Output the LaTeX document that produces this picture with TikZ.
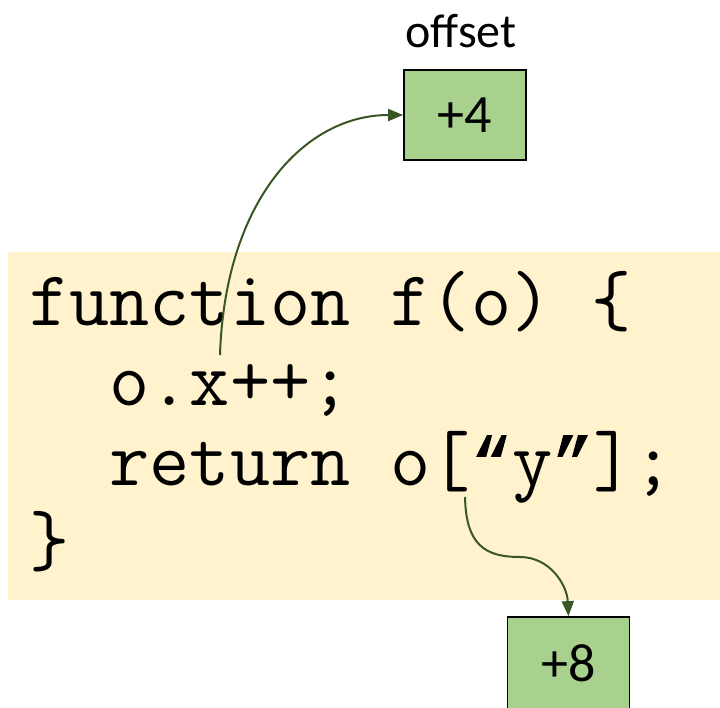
\documentclass[tikz,border=0pt]{standalone}
\usepackage{fontspec}
\setmainfont{Carlito}
\newfontfamily\quotefont[FakeBold=1.5]{Liberation Mono}
\usetikzlibrary{arrows.meta}
\definecolor{codebg}{HTML}{FFF2CC}
\definecolor{boxgreen}{HTML}{A9D18E}
\definecolor{arrowgreen}{HTML}{385723}
\newcommand{\curlyq}[1]{{\quotefont\fontsize{68.25}{80}\selectfont #1}}
\tikzset{
  slotbox/.style={draw=black, line width=1.8pt, fill=boxgreen, minimum width=122pt, minimum height=90pt, inner sep=0pt, font=\fontsize{54}{60}\selectfont},
  codeline/.style={anchor=base west, inner sep=0pt, font=\ttfamily\addfontfeatures{FakeBold=2}\fontsize{78}{80}\selectfont},
  link/.style={draw=arrowgreen, line width=2pt, -{Triangle[length=15pt,width=12pt]}},
}
\begin{document}
\begin{tikzpicture}[x=1pt,y=-1pt]
\useasboundingbox (0,0) rectangle (720,707);
\clip (0,0) rectangle (720,707);
\fill[codebg] (8,252) rectangle (720,600);
\node[codeline] (l1) at (29,325) {function f(o) \{};
\node[codeline] (l2) at (29,405) {\ \ o.x++;};
\node[codeline] (l3) at (29,485) {\ \ return o[\curlyq{“}y\curlyq{”}];};
\node[codeline] (l4) at (29,565) {\}};
\node[slotbox] (b4) at (465,115) {+4};
\node[font=\fontsize{48}{52}\selectfont, anchor=base] (off) at (461,47) {offset};
\node[slotbox, minimum height=94pt] (b8) at (568.5,664) {};
\node[font=\fontsize{54}{60}\selectfont] (t8) at (568.5,663) {+8};
\coordinate (s1) at (220,355);
\coordinate (s2) at (465,497);
\coordinate (m2) at (520,557);
\draw[link] (s1) .. controls (225,200) and (305,115) .. (b4.west);
\draw[draw=arrowgreen, line width=2pt] (s2) .. controls (466,545) and (485,557) .. (m2);
\draw[link] (m2) .. controls (550,557) and (567,585) .. (b8.north);
\end{tikzpicture}
\end{document}
